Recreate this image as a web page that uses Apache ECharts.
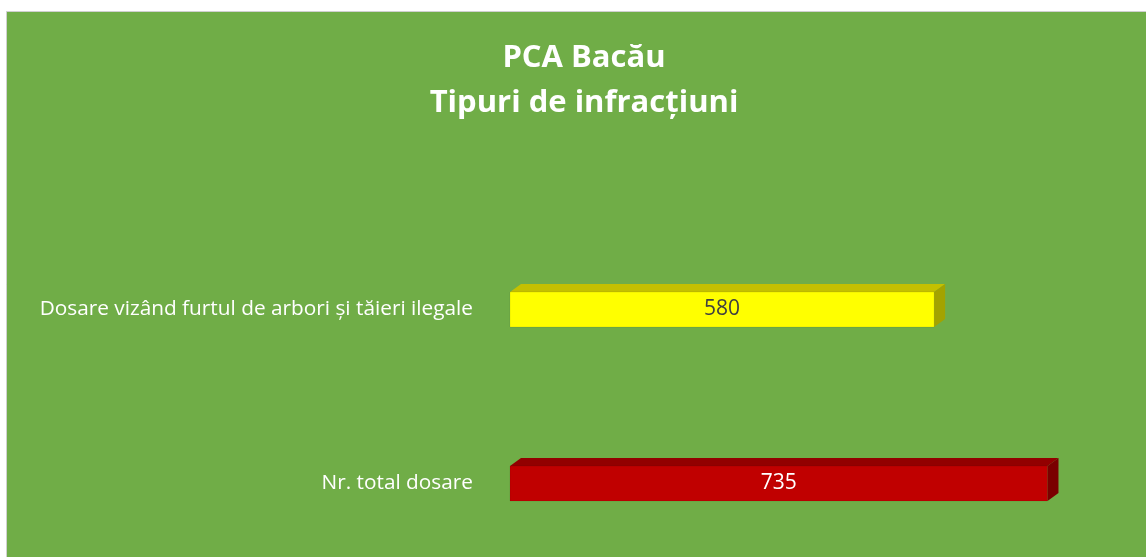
<!DOCTYPE html>
<html>
<head>
    <meta charset="utf-8">
    <title>PCA Bacău</title>
    <script src="https://cdn.jsdelivr.net/npm/echarts@6/dist/echarts.min.js"></script>
    <style>
        html, body { margin: 0; padding: 0; background: #fff; }
        #main { width: 1146px; height: 557px; }
    </style>
</head>
<body>
<div id="main"></div>
<script type="text/javascript">
    // date
    var categories = ['Nr. total dosare', 'Dosare vizând furtul de arbori și tăieri ilegale'];
    var values = [735, 580];
    var frontColors = ['#C00000', '#FFFF00'];
    var topColors = ['#920000', '#C4C000'];
    var sideColors = ['#7A0000', '#A3A300'];
    var labelColors = ['#FFFFFF', '#404040'];

    var myChart = echarts.init(document.getElementById('main'));

    // bara 3D: fata + capac + lateral
    function renderBar(params, api) {
        var idx = api.value(0);
        var val = api.value(1);
        var start = api.coord([0, idx]);
        var end = api.coord([val, idx]);
        var h = 35, dx = 11, dy = -8;
        var x0 = start[0], x1 = end[0], y0 = start[1] - h / 2, y1 = start[1] + h / 2;
        return {
            type: 'group',
            children: [
                {
                    type: 'polygon',
                    shape: { points: [[x0, y0], [x0 + dx, y0 + dy], [x1 + dx, y0 + dy], [x1, y0]] },
                    style: { fill: topColors[idx] }
                },
                {
                    type: 'polygon',
                    shape: { points: [[x1, y0], [x1 + dx, y0 + dy], [x1 + dx, y1 + dy], [x1, y1]] },
                    style: { fill: sideColors[idx] }
                },
                {
                    type: 'rect',
                    shape: { x: x0, y: y0, width: x1 - x0, height: h },
                    style: {
                        fill: frontColors[idx],
                        stroke: 'rgba(0,0,0,0.08)',
                        lineWidth: 1
                    },
                    textContent: {
                        style: {
                            text: String(val),
                            fill: labelColors[idx],
                            fontSize: 21,
                            fontFamily: 'Open Sans'
                        }
                    },
                    textConfig: { position: 'inside' }
                }
            ]
        };
    }

    var data = values.map(function (v, i) { return [i, v]; });

    var option = {
        backgroundColor: '#ffffff',
        graphic: [{
            type: 'rect',
            z: -10,
            shape: { x: 6.5, y: 11.5, width: 1146, height: 557 },
            style: { fill: '#70AD47', stroke: '#D0D0D0', lineWidth: 1 }
        }],
        title: {
            text: 'PCA Bacău\nTipuri de infracțiuni',
            left: 579,
            textAlign: 'center',
            top: 31,
            textStyle: {
                color: '#ffffff',
                fontSize: 31,
                fontWeight: 'bold',
                fontFamily: 'Open Sans',
                lineHeight: 45
            }
        },
        grid: { left: 510, top: 309.5, width: 585, height: 174 },
        xAxis: {
            type: 'value',
            min: 0,
            max: 800,
            show: false
        },
        yAxis: {
            type: 'category',
            data: categories,
            boundaryGap: false,
            axisLine: { show: false },
            axisTick: { show: false },
            splitLine: { show: false },
            axisLabel: {
                color: '#ffffff',
                fontSize: 20.8,
                fontFamily: 'Open Sans',
                margin: 37,
                padding: [8, 0, 0, 0]
            }
        },
        series: [{
            type: 'custom',
            renderItem: renderBar,
            encode: { x: 1, y: 0 },
            data: data
        }]
    };

    myChart.setOption(option);
</script>
</body>
</html>
